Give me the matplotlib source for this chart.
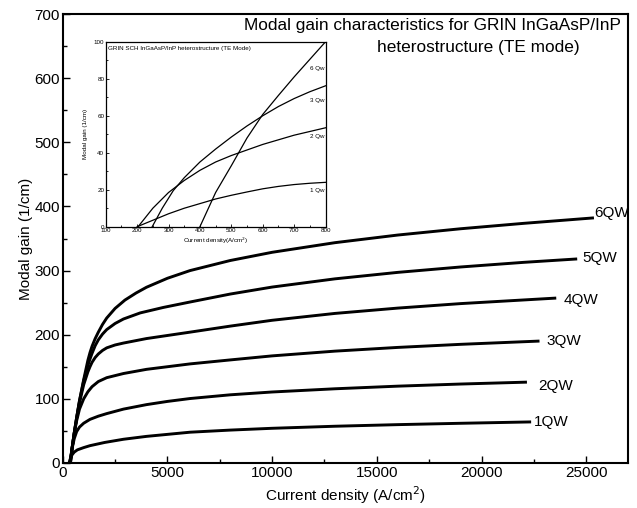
import matplotlib
matplotlib.use("Agg")
import matplotlib.pyplot as plt
from matplotlib.ticker import MultipleLocator

plt.rcParams['font.family'] = ['Liberation Sans', 'DejaVu Sans']

# main plot data (current density in A/cm^2, modal gain in 1/cm)
qw1_x = [300, 380, 450, 550, 700, 1000, 1300, 2000, 2900, 4000, 6080, 8000, 10000, 13000, 16000, 19000, 22300]
qw1_y = [0, 8, 13, 17, 20.5, 24, 27, 32, 37, 41.5, 48, 51.3, 54.1, 57.3, 59.8, 61.9, 64]

qw2_x = [330, 450, 550, 665, 800, 1000, 1300, 1700, 2100, 2900, 4000, 5000, 6080, 8000, 10000, 13000, 16000, 19000, 22100]
qw2_y = [0, 23, 38, 49, 56, 62, 68, 73, 77, 84, 91, 96, 100.5, 106.3, 110.7, 115.7, 119.8, 123.1, 126]

qw3_x = [350, 450, 550, 665, 800, 1000, 1200, 1400, 1700, 2100, 2900, 4000, 6080, 8000, 10000, 13000, 16000, 19000, 22700]
qw3_y = [0, 24, 46, 66, 84, 100, 111, 119, 127, 133, 139.5, 146, 154.5, 160.7, 167, 174.4, 180.2, 185, 190]

qw4_x = [360, 450, 550, 665, 800, 1000, 1200, 1300, 1400, 1550, 1700, 1900, 2100, 2500, 2900, 4000, 6080, 8000, 10000, 13000, 16000, 19000, 23500]
qw4_y = [0, 24, 47, 70, 94, 122, 142, 150, 157, 164.5, 170, 175.5, 179.5, 184, 187, 194, 204, 213.4, 222.5, 233.2, 241.5, 248.5, 257]

qw5_x = [365, 450, 550, 665, 800, 1000, 1200, 1300, 1400, 1550, 1700, 1900, 2100, 2500, 2900, 3700, 4800, 6080, 8000, 10000, 13000, 16000, 19000, 22000, 24500]
qw5_y = [0, 24, 47, 71, 97, 128, 152, 162, 171, 183, 192, 201, 208, 217.5, 224.5, 234, 242.5, 251, 263.4, 274.3, 287.1, 297.2, 305.6, 312.8, 318]

qw6_x = [370, 450, 550, 665, 800, 1000, 1200, 1300, 1400, 1550, 1700, 1900, 2100, 2500, 2970, 3500, 4000, 5000, 6080, 8000, 10000, 13000, 16000, 19000, 22000, 25300]
qw6_y = [0, 24, 47, 71, 97, 130, 160, 172, 182, 194, 204, 216, 226, 241, 254, 265, 274, 288, 300, 315.7, 328.5, 343.5, 355.4, 365.2, 373.6, 382]

main_names = ['1QW', '2QW', '3QW', '4QW', '5QW', '6QW']

# inset data (TE mode, 100-800 A/cm^2)
in_1qw_x = [200, 250, 300, 350, 400, 450, 500, 550, 600, 650, 700, 750, 800]
in_1qw_y = [0, 3.5, 7, 10, 12.5, 15, 17, 18.8, 20.5, 21.8, 22.8, 23.5, 24]

in_2qw_x = [203, 250, 300, 350, 400, 450, 500, 550, 600, 650, 700, 750, 800]
in_2qw_y = [0, 10, 18.5, 25, 30.5, 35, 38.5, 41.5, 44.5, 47, 49.5, 51.5, 53.5]

in_3qw_x = [248, 280, 315, 350, 400, 450, 500, 550, 600, 650, 700, 750, 800]
in_3qw_y = [0, 10, 19.5, 26.5, 35, 42, 48.5, 54.5, 60, 65, 69.3, 73, 76.2]

in_6qw_x = [400, 450, 500, 550, 600, 650, 700, 750, 800]
in_6qw_y = [0, 18.5, 33, 48, 60.7, 71, 81, 90.5, 100]

inset_names = ['1 Qw', '2 Qw', '3 Qw', '6 Qw']

fig = plt.figure(figsize=(6.37, 5.08), dpi=100)
ax = fig.add_axes([0.0985, 0.0886, 0.8875, 0.8838])

main_x = [qw1_x, qw2_x, qw3_x, qw4_x, qw5_x, qw6_x]
main_y = [qw1_y, qw2_y, qw3_y, qw4_y, qw5_y, qw6_y]
for xs, ys in zip(main_x, main_y):
    ax.plot(xs, ys, color='black', lw=2.1, solid_joinstyle='round')

# curve labels next to line ends
label_pos = [(22500, 64), (22700, 120), (23100, 190), (23900, 254), (24800, 320), (25400, 390)]
for name, (lx, ly) in zip(main_names, label_pos):
    ax.text(lx, ly, name, fontsize=11, ha='left', va='center')

ax.set_xlim(0, 27000)
ax.set_ylim(0, 700)
ax.xaxis.set_major_locator(MultipleLocator(5000))
ax.xaxis.set_minor_locator(MultipleLocator(2500))
ax.yaxis.set_major_locator(MultipleLocator(100))
ax.yaxis.set_minor_locator(MultipleLocator(50))
ax.tick_params(which='both', direction='in', labelsize=11, width=1)
ax.tick_params(which='major', length=5, pad=2)
ax.tick_params(which='minor', length=3)
for s in ax.spines.values():
    s.set_linewidth(1.5)
ax.set_xlabel('Current density (A/cm$^2$)', fontsize=11, labelpad=3)
ax.set_ylabel('Modal gain (1/cm)', fontsize=11, labelpad=1)

ax.text(0.988, 0.9755, 'Modal gain characteristics for GRIN InGaAsP/InP',
        transform=ax.transAxes, fontsize=12.4, ha='right', va='center')
ax.text(0.915, 0.9265, 'heterostructure (TE mode)',
        transform=ax.transAxes, fontsize=12.4, ha='right', va='center')

# inset
ins = fig.add_axes([0.166, 0.5537, 0.345, 0.364])
inset_x = [in_1qw_x, in_2qw_x, in_3qw_x, in_6qw_x]
inset_y = [in_1qw_y, in_2qw_y, in_3qw_y, in_6qw_y]
for xs, ys in zip(inset_x, inset_y):
    ins.plot(xs, ys, color='black', lw=0.9, solid_joinstyle='round')

inset_lab = [(798, 19.8), (798, 48.6), (798, 68.5), (798, 85.6)]
for name, (lx, ly) in zip(inset_names, inset_lab):
    ins.text(lx, ly, name, fontsize=4.5, ha='right', va='center')

ins.set_xlim(100, 800)
ins.set_ylim(0, 100)
ins.xaxis.set_major_locator(MultipleLocator(100))
ins.xaxis.set_minor_locator(MultipleLocator(50))
ins.yaxis.set_major_locator(MultipleLocator(20))
ins.yaxis.set_minor_locator(MultipleLocator(10))
ins.tick_params(which='both', direction='in', labelsize=4.5, width=0.6, pad=1)
ins.tick_params(which='major', length=2.5)
ins.tick_params(which='minor', length=1.5)
for s in ins.spines.values():
    s.set_linewidth(0.9)
ins.set_xlabel('Current density(A/cm$^2$)', fontsize=4.5, labelpad=2)
ins.set_ylabel('Modal gain (1/cm)', fontsize=4.5, labelpad=4)
ins.text(0.01, 0.975, 'GRIN SCH InGaAsP/InP heterostructure (TE Mode)',
         transform=ins.transAxes, fontsize=4.5, ha='left', va='top')

fig.savefig('out.png', dpi=100)
